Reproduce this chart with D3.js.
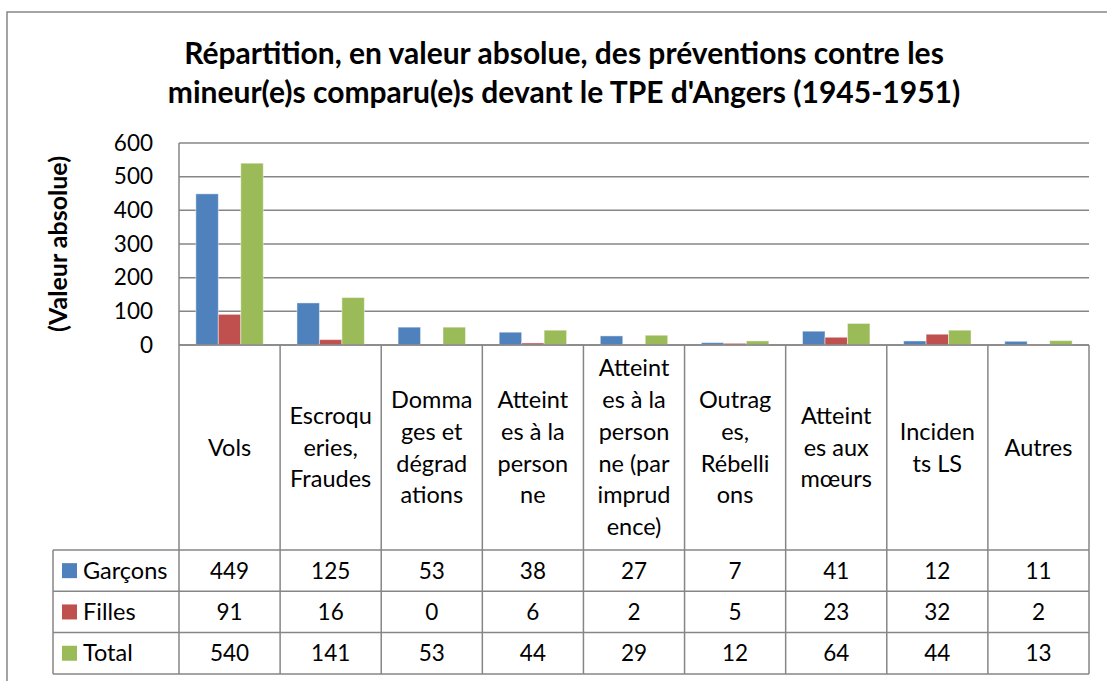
<!DOCTYPE html>
<meta charset="utf-8">
<style>
  body { margin: 0; background: #fff; }
  text { font-family: Lato, "Liberation Sans", sans-serif; fill: #000; }
</style>
<svg width="1107" height="681"></svg>
<script src="https://cdn.jsdelivr.net/npm/d3@7"></script>
<script>

// data
var categories = ["Vols", "Escroqueries, Fraudes", "Dommages et dégradations", "Atteintes à la personne",
  "Atteintes à la personne (par imprudence)", "Outrages, Rébellions", "Atteintes aux mœurs", "Incidents LS", "Autres"];
// category labels as wrapped in the table cells
var categoryLines = [
  ["Vols"],
  ["Escroqu", "eries,", "Fraudes"],
  ["Domma", "ges et", "dégrad", "ations"],
  ["Atteint", "es à la", "person", "ne"],
  ["Atteint", "es à la", "person", "ne (par", "imprud", "ence)"],
  ["Outrag", "es,", "Rébelli", "ons"],
  ["Atteint", "es aux", "mœurs"],
  ["Inciden", "ts LS"],
  ["Autres"]
];
var seriesNames = ["Garçons", "Filles", "Total"];
var garcons = [449, 125, 53, 38, 27, 7, 41, 12, 11];
var filles = [91, 16, 0, 6, 2, 5, 23, 32, 2];
var total = [540, 141, 53, 44, 29, 12, 64, 44, 13];
var yTicks = [0, 100, 200, 300, 400, 500, 600];
var colors = ["#4f81bd", "#c0504d", "#9bbb59"];

var titleLines = ["Répartition, en valeur absolue, des préventions contre les",
  "mineur(e)s comparu(e)s devant le TPE d'Angers (1945-1951)"];
var yTitle = "(Valeur absolue)";

var series = [garcons, filles, total];

var svg = d3.select("svg"),
    plot = {left: 179, right: 1089, top: 143, bottom: 345},
    tableBottom = 674, legendLeft = 53,
    labelRowBottom = 550, rowH = 41.3,
    gridColor = "#868686",
    textSize = 23.5, numSize = 22.5;

// outer chart frame
svg.append("rect")
    .attr("x", 7).attr("y", 12)
    .attr("width", 1300).attr("height", 900)
    .attr("fill", "#fff")
    .attr("stroke", gridColor)
    .attr("stroke-width", 1.5);

var x = d3.scaleBand()
    .domain(categories)
    .range([plot.left, plot.right]);

var xs = d3.scaleBand()
    .domain(seriesNames)
    .range([0, x.bandwidth()])
    .paddingOuter(0.75);

var y = d3.scaleLinear()
    .domain([0, 600])
    .range([plot.bottom, plot.top]);

// title
svg.append("text")
    .attr("text-anchor", "middle")
    .attr("font-weight", "bold")
    .attr("font-size", 30)
  .selectAll("tspan")
  .data(titleLines)
  .join("tspan")
    .attr("x", 564)
    .attr("y", function(d, i) { return 64 + i * 39; })
    .text(function(d) { return d; });

// gridlines
svg.append("g")
  .selectAll("line")
  .data(yTicks)
  .join("line")
    .attr("x1", plot.left).attr("x2", plot.right)
    .attr("y1", function(d) { return y(d); })
    .attr("y2", function(d) { return y(d); })
    .attr("stroke", gridColor)
    .attr("stroke-width", 1.5);

// y axis labels
var yAxis = svg.append("g")
    .attr("transform", "translate(" + plot.left + ",0)")
    .call(d3.axisLeft(y).tickValues(yTicks).tickSize(0).tickPadding(26));
yAxis.select(".domain").remove();
yAxis.selectAll("text")
    .attr("font-size", numSize)
    .attr("font-family", "Lato, sans-serif")
    .attr("fill", "#000");

svg.append("text")
    .attr("transform", "translate(58," + ((plot.top + plot.bottom) / 2) + ") rotate(-90)")
    .attr("text-anchor", "middle")
    .attr("dy", "0.35em")
    .attr("font-weight", "bold")
    .attr("font-size", 25)
    .text(yTitle);

// bars
var groups = svg.append("g")
  .selectAll("g")
  .data(series)
  .join("g")
    .attr("fill", function(d, i) { return colors[i]; });

groups.selectAll("rect")
  .data(function(d, i) { return d.map(function(v, j) { return {s: seriesNames[i], c: categories[j], v: v}; }); })
  .join("rect")
    .attr("x", function(d) { return x(d.c) + xs(d.s); })
    .attr("y", function(d) { return y(d.v); })
    .attr("width", xs.bandwidth())
    .attr("height", function(d) { return y(0) - y(d.v); })
    .attr("stroke", "rgba(255,255,255,0.45)")
    .attr("stroke-width", 1);

// data table lines
var table = svg.append("g")
    .attr("stroke", gridColor)
    .attr("stroke-width", 1.5)
    .attr("fill", "none");

var rowEdges = seriesNames.map(function(d, i) { return labelRowBottom + i * rowH; }).concat([tableBottom]);

table.selectAll("line.h")
  .data(rowEdges)
  .join("line")
    .attr("x1", legendLeft).attr("x2", plot.right)
    .attr("y1", function(d) { return d; })
    .attr("y2", function(d) { return d; });

table.append("line")
    .attr("x1", plot.left).attr("x2", plot.right)
    .attr("y1", plot.bottom).attr("y2", plot.bottom);

table.selectAll("line.v")
  .data(categories.concat(["__end"]))
  .join("line")
    .attr("x1", function(d, i) { return plot.left + i * x.step(); })
    .attr("x2", function(d, i) { return plot.left + i * x.step(); })
    .attr("y1", function(d, i) { return i === 0 ? plot.top : plot.bottom; })
    .attr("y2", tableBottom);

table.append("line")
    .attr("x1", legendLeft).attr("x2", legendLeft)
    .attr("y1", labelRowBottom).attr("y2", tableBottom);

// category labels
var lineH = 31.7, labelMid = (plot.bottom + labelRowBottom) / 2;
svg.append("g")
  .selectAll("text")
  .data(categories)
  .join("text")
    .attr("text-anchor", "middle")
    .attr("font-size", textSize)
  .each(function(c, j) {
    var lines = categoryLines[j];
    d3.select(this).selectAll("tspan")
      .data(lines)
      .join("tspan")
        .attr("x", x(c) + x.bandwidth() / 2)
        .attr("y", function(d, k) { return labelMid + (k - (lines.length - 1) / 2) * lineH; })
        .attr("dy", "0.35em")
        .text(function(d) { return d; });
  });

// table rows: legend key + values
var rows = svg.append("g")
  .selectAll("g")
  .data(series)
  .join("g")
    .attr("transform", function(d, i) { return "translate(0," + (labelRowBottom + (i + 0.5) * rowH) + ")"; });

rows.append("rect")
    .attr("x", 62).attr("y", -7.5)
    .attr("width", 15).attr("height", 15)
    .attr("fill", function(d, i) { return colors[i]; });

rows.append("text")
    .attr("x", 83)
    .attr("dy", "0.35em")
    .attr("font-size", textSize)
    .text(function(d, i) { return seriesNames[i]; });

rows.selectAll("text.v")
  .data(function(d) { return d; })
  .join("text")
    .attr("class", "v")
    .attr("x", function(d, j) { return x(categories[j]) + x.bandwidth() / 2; })
    .attr("dy", "0.35em")
    .attr("text-anchor", "middle")
    .attr("font-size", numSize)
    .text(function(d) { return d; });

</script>
